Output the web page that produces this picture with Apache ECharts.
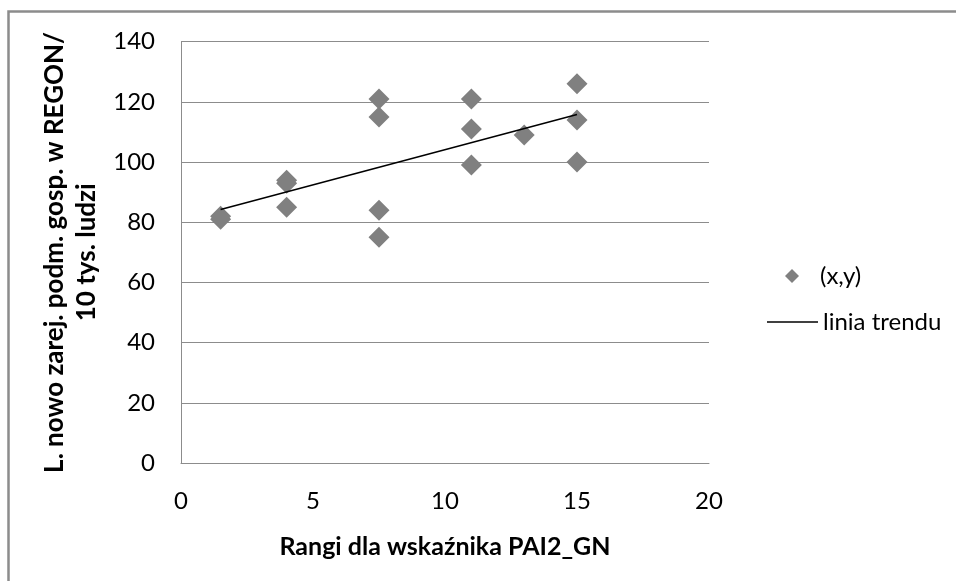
<!DOCTYPE html>
<html>
<head>
<meta charset="utf-8">
<script src="https://cdn.jsdelivr.net/npm/echarts@6/dist/echarts.min.js"></script>
<style>
html,body{margin:0;padding:0;background:#fff;}
#c{width:956px;height:581px;}
</style>
</head>
<body>
<div id="c"></div>
<script>
// Data
var ranks  = [1.5, 1.5, 4, 4, 4, 7.5, 7.5, 7.5, 7.5, 11, 11, 11, 13, 15, 15, 15];
var values = [81, 82, 94, 93, 85, 121, 115, 84, 75, 121, 111, 99, 109, 126, 114, 100];
var seriesNames = ['(x,y)', 'linia trendu'];
var xTitle = 'Rangi dla wskaźnika PAI2_GN';
var yTitle = 'L. nowo zarej. podm. gosp. w REGON/\n10 tys. ludzi';

// scatter points
var points = ranks.map(function (r, i) { return [r, values[i]]; });

// least-squares trend line from the data
var n = ranks.length, sx = 0, sy = 0, sxx = 0, sxy = 0;
for (var i = 0; i < n; i++) { sx += ranks[i]; sy += values[i]; sxx += ranks[i]*ranks[i]; sxy += ranks[i]*values[i]; }
var slope = (n*sxy - sx*sy) / (n*sxx - sx*sx);
var intercept = (sy - slope*sx) / n;
var xMin = Math.min.apply(null, ranks), xMax = Math.max.apply(null, ranks);
var trend = [[xMin, intercept + slope*xMin], [xMax, intercept + slope*xMax]];

var FONT = 'Lato';
var chart = echarts.init(document.getElementById('c'));
chart.setOption({
  animation: false,
  backgroundColor: '#fff',
  textStyle: { fontFamily: FONT },
  graphic: [{
    type: 'rect', silent: true, z: -1,
    shape: { x: 8.5, y: 11.5, width: 2000, height: 2000 },
    style: { fill: 'none', stroke: '#8c8c8c', lineWidth: 2.5 }
  }],
  grid: { left: 181, right: 247, top: 41.7, bottom: 118, containLabel: false },
  legend: [{
    orient: 'vertical',
    left: 780, top: 258,
    itemWidth: 14, itemHeight: 14,
    textStyle: { fontFamily: FONT, fontSize: 24, color: '#000', lineHeight: 26, padding: [0, 0, 0, 16] },
    data: [{ name: seriesNames[0], icon: 'diamond' }]
  }, {
    orient: 'vertical',
    left: 762, top: 304,
    itemWidth: 51, itemHeight: 14,
    symbolKeepAspect: true,
    textStyle: { fontFamily: FONT, fontSize: 24, color: '#000', lineHeight: 26 },
    data: [{ name: seriesNames[1], icon: 'path://M0,0L51,0L51,1.5L0,1.5Z', itemStyle: { color: '#000' } }]
  }],
  xAxis: {
    type: 'value', min: 0, max: 20, interval: 5,
    name: xTitle, nameLocation: 'middle', nameGap: 71,
    nameTextStyle: { fontFamily: FONT, fontSize: 25, fontWeight: 'bold', color: '#000' },
    axisLine: { show: true, lineStyle: { color: '#8c8c8c', width: 1 } },
    axisTick: { show: false },
    splitLine: { show: false },
    axisLabel: { fontFamily: FONT, fontSize: 24, color: '#000', margin: 26 }
  },
  yAxis: {
    type: 'value', min: 0, max: 140, interval: 20,
    name: yTitle, nameLocation: 'middle', nameGap: 75, nameRotate: 90,
    nameTextStyle: { fontFamily: FONT, fontSize: 26, fontWeight: 'bold', color: '#000', lineHeight: 32, align: 'center' },
    axisLine: { show: true, lineStyle: { color: '#8c8c8c', width: 1 } },
    axisTick: { show: false },
    splitLine: { show: true, lineStyle: { color: '#8c8c8c', width: 1 } },
    axisLabel: { fontFamily: FONT, fontSize: 24, color: '#000', margin: 26 }
  },
  series: [
    {
      name: seriesNames[0], type: 'scatter',
      symbol: 'diamond', symbolSize: 21,
      itemStyle: { color: '#808080', opacity: 1 },
      data: points, z: 3
    },
    {
      name: seriesNames[1], type: 'line',
      symbol: 'none', showSymbol: false,
      lineStyle: { color: '#000', width: 1.5 },
      itemStyle: { color: '#000' },
      data: trend, z: 4
    }
  ]
});
</script>
</body>
</html>
